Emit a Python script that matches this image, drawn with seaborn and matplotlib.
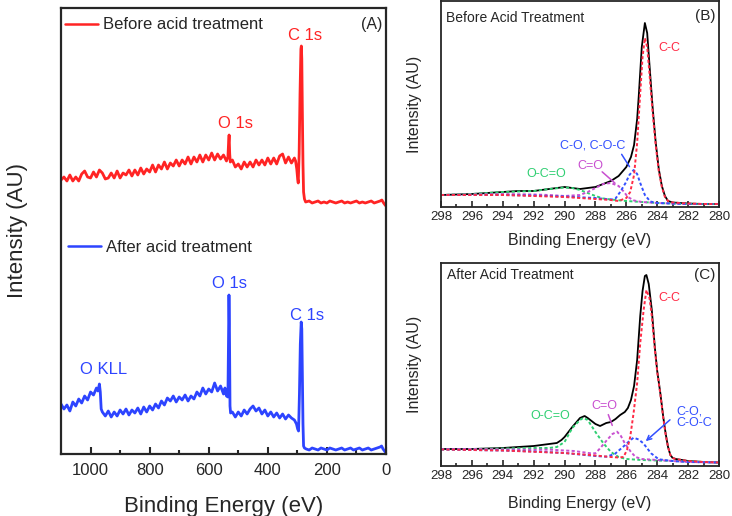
import numpy as np
import pandas as pd
import seaborn as sns
import matplotlib
matplotlib.use("Agg")
import matplotlib.pyplot as plt
from matplotlib.lines import Line2D

sns.set_style("ticks")
plt.rcParams['font.family'] = ['Liberation Sans', 'DejaVu Sans']

# ---------------- Panel A: survey spectra ----------------
survey_before_E = [1100, 1090, 1080, 1070, 1060, 1050, 1040, 1030, 1020, 1010,
                   1000, 990, 980, 970, 960, 950, 940, 930, 920, 910,
                   900, 890, 880, 870, 860, 850, 840, 830, 820, 810,
                   800, 790, 780, 770, 760, 750, 740, 730, 720, 710,
                   700, 690, 680, 670, 660, 650, 640, 630, 620, 610,
                   600, 590, 580, 570, 560, 550, 540, 535, 533, 531, 529, 527,
                   520, 510, 500, 490, 480, 470, 460, 450, 440, 430, 420, 410,
                   400, 390, 380, 370, 360, 350, 340, 330, 320, 310, 306, 302,
                   299, 297, 294, 291, 288, 286.5, 285, 283, 281, 279, 276, 272,
                   260, 250, 240, 230, 220, 210, 200, 190, 180, 170, 160, 150,
                   140, 130, 120, 110, 100, 90, 80, 70, 60, 50, 40, 30, 20, 14,
                   8, 3, 0]
survey_before_I = [274, 277, 273, 279, 273, 277, 273, 280, 283, 277,
                   276, 282, 277, 284, 281, 275, 276, 281, 276, 283,
                   276, 281, 279, 284, 278, 284, 279, 286, 280, 285,
                   282, 289, 282, 289, 285, 292, 285, 291, 288, 294,
                   288, 294, 290, 297, 290, 297, 292, 299, 292, 299,
                   294, 301, 294, 300, 295, 299, 293, 297, 310, 319, 300, 292,
                   294, 287, 290, 285, 292, 287, 292, 287, 294, 289, 294, 289,
                   296, 290, 296, 290, 298, 300, 291, 297, 291, 296, 293, 285,
                   275, 271, 300, 360, 405, 408, 395, 340, 290, 262, 255, 252,
                   253, 251, 252, 253, 251, 252, 251, 253, 252, 251, 252, 253,
                   251, 252, 251, 252, 253, 251, 252, 251, 252, 253, 251, 252, 253, 254,
                   251, 249, 248]

survey_after_E = [1100, 1090, 1080, 1070, 1060, 1050, 1040, 1030, 1020, 1010,
                  1000, 990, 980, 975, 970, 967, 964, 960, 950, 940,
                  930, 920, 910, 900, 890, 880, 870, 860, 850, 840,
                  830, 820, 810, 800, 790, 780, 770, 760, 750, 740,
                  730, 720, 710, 700, 690, 680, 670, 660, 650, 640,
                  630, 620, 610, 600, 590, 580, 570, 560, 550, 545,
                  540, 535, 533, 531.5, 530, 528, 526, 520, 510, 500,
                  490, 480, 470, 460, 450, 440, 430, 420, 410, 400,
                  390, 380, 370, 360, 350, 340, 330, 320, 310, 303,
                  299, 296, 293, 290, 287, 285, 283, 281, 279, 276,
                  270, 260, 250, 240, 230, 220, 210, 200, 190, 180,
                  170, 160, 150, 140, 130, 120, 110, 100, 90, 80,
                  70, 60, 50, 40, 30, 20, 15, 10, 5, 0]
survey_after_I = [50, 45, 49, 43, 52, 48, 55, 51, 58, 54,
                  62, 59, 66, 63, 70, 62, 45, 42, 38, 43,
                  37, 42, 38, 44, 40, 45, 39, 44, 41, 46,
                  40, 47, 42, 48, 44, 50, 46, 53, 49, 56,
                  53, 58, 52, 57, 54, 59, 53, 58, 55, 62,
                  58, 66, 60, 65, 62, 71, 63, 68, 60, 66,
                  58, 57, 120, 159, 130, 48, 41, 42, 37, 42,
                  38, 44, 40, 45, 48, 43, 46, 40, 44, 38,
                  42, 37, 41, 36, 40, 35, 39, 36, 34, 30,
                  25, 23, 60, 110, 132, 125, 80, 30, 8, 6,
                  5, 4, 6, 5, 4, 6, 5, 4, 6, 5,
                  4, 5, 6, 4, 5, 6, 4, 5, 6, 4,
                  5, 6, 4, 5, 6, 7, 8, 5, 3, 1]

# ---------------- Panel B: C1s before acid treatment ----------------
b_env_E = [298, 297, 296, 295, 294, 293, 292, 291, 290.5, 290, 289.5, 289, 288.5,
           288, 287.5, 287, 286.5, 286, 285.7, 285.5, 285.3, 285.2, 285.0, 284.8,
           284.65, 284.5, 284.3, 284.1, 283.9, 283.7, 283.5, 283.3, 283.0, 282,
           281, 280]
b_env_I = [12, 12.5, 13, 14, 15, 16, 16, 18, 19, 20, 19, 18, 19,
           20, 23, 26, 31, 40, 50, 62, 88, 110, 160, 184,
           174, 142, 100, 65, 38, 21, 11, 6, 4.5, 3.5,
           3, 3]
b_cc_E = [298, 294, 290, 288, 287, 286.5, 286, 285.75, 285.5, 285.3, 285.1, 284.95,
          284.8, 284.65, 284.5, 284.3, 284.1, 283.9, 283.7, 283.5, 283.3, 283.0,
          282, 281, 280]
b_cc_I = [12, 12, 10, 8, 7, 6, 9, 15, 32, 64, 114, 150,
          169, 160, 133, 95, 62, 36, 20, 10, 6, 4.5,
          3.5, 3, 3]
b_co_E = [298, 296, 294, 292, 290, 288, 287, 286.7, 286.4, 286.05, 285.8, 285.53,
          285.3, 285.1, 284.8, 284.45, 284, 282, 280]
b_co_I = [12, 12, 12, 11.5, 10.5, 9, 7.5, 8.5, 15, 24, 32, 37,
          33, 24, 12, 5.5, 4, 3, 3]
b_c_o_E = [298, 296, 294, 292, 291, 290, 289, 288.5, 288, 287.5, 287, 286.5,
           286.2, 285.9, 285.5, 285, 284, 282, 280]
b_c_o_I = [12, 12.5, 13, 12.5, 12, 11, 12, 15, 19, 23, 24, 21,
           16, 10, 6.5, 5, 4, 3, 3]
b_occ_E = [298, 296, 294, 292, 291, 290, 289.5, 289, 288.5, 288, 287.5, 287,
           286, 285, 284, 282, 280]
b_occ_I = [12, 13, 15, 16, 18, 19.5, 19, 17, 14, 11, 8.5, 7.5,
           6, 5, 4, 3, 3]

# ---------------- Panel C: C1s after acid treatment ----------------
c_env_E = [298, 296, 294, 293, 292, 291, 290.5, 290.2, 290, 289.5, 289, 288.7,
           288.5, 288, 287.7, 287.3, 287.0, 286.7, 286.4, 286.1, 285.9, 285.7,
           285.5, 285.3, 285.1, 284.95, 284.8, 284.7, 284.55, 284.35, 284.15,
           284.0, 283.8, 283.6, 283.45, 283.3, 283.15, 283.0, 282.8, 282, 281, 280]
c_env_I = [17, 17, 18, 19, 20, 22, 23, 26, 29, 39, 48, 50,
           48, 42, 40, 43, 44, 47, 51, 54, 58, 66,
           80, 106, 150, 175, 190, 191, 182, 156, 118,
           95, 73, 48, 32, 19, 11, 8, 7, 5, 4, 3.5]
c_cc_E = [298, 294, 290, 288, 287, 286.5, 286.18, 285.96, 285.75, 285.53, 285.3,
          285.1, 284.88, 284.7, 284.5, 284.35, 284.15, 284.0, 283.8, 283.6,
          283.45, 283.3, 283.15, 283.0, 282.8, 282, 281, 280]
c_cc_I = [16.5, 15.5, 13, 10.5, 9, 8.5, 9, 16, 29, 53, 83,
          123, 156, 176, 168, 150, 116, 94, 72, 47,
          31, 19, 11, 8, 7, 5, 4, 3.5]
c_co_E = [298, 296, 294, 292, 290, 288, 287.3, 286.75, 286.2, 285.8, 285.53,
          285.2, 284.9, 284.4, 283.9, 283, 282, 280]
c_co_I = [16.5, 16, 15.5, 14.5, 13, 10, 9.3, 12, 19.3, 25, 28.3,
          26.5, 22.7, 12.7, 6.7, 5, 4, 3.5]
c_c_o_E = [298, 296, 294, 292, 290.9, 289.4, 288.3, 288, 287.7, 287.25, 286.9,
           286.6, 286.35, 286.1, 285.7, 285.4, 285, 284, 283, 282, 280]
c_c_o_I = [17, 17, 16.5, 16.3, 16.3, 15, 12.7, 12.7, 17.7, 26, 32,
           34.3, 30, 22.7, 14, 9, 7, 6, 5, 4, 3.5]
c_occ_E = [298, 296, 294, 292, 291, 290.5, 290, 289.5, 289, 288.8, 288.5, 288,
           287.5, 287, 286.5, 286, 285, 283, 280]
c_occ_I = [16.7, 17, 17.5, 18, 18, 19, 24, 38, 46, 48, 46, 34,
           23, 14, 9, 7, 6, 5, 3.5]

# ---------------- colours ----------------
RED = "#ff2424"
BLUE = "#2d44ff"
GREEN = "#2fcf72"
MAGENTA = "#c84fd0"
DBLUE = "#3350ff"
DRED = "#ff2a45"

W, H = 732, 516
fig = plt.figure(figsize=(W / 100, H / 100), dpi=100)


def box(l, t, r, b):
    return [l / W, 1 - b / H, (r - l) / W, (b - t) / H]


# ===== Panel A =====
axA = fig.add_axes(box(61, 8, 386, 454))
dfb = pd.DataFrame({"E": survey_before_E, "I": survey_before_I})
dfa = pd.DataFrame({"E": survey_after_E, "I": survey_after_I})
sns.lineplot(data=dfb, x="E", y="I", ax=axA, color=RED, lw=2.0, legend=False,
             estimator=None, sort=False)
sns.lineplot(data=dfa, x="E", y="I", ax=axA, color=BLUE, lw=2.0, legend=False,
             estimator=None, sort=False)
axA.set_xlim(1100, 0)
axA.set_ylim(0, 446)
axA.set_xticks([1000, 800, 600, 400, 200, 0])
axA.set_xticks([900, 700, 500, 300, 100], minor=True)
axA.set_yticks([])
axA.tick_params(axis="x", which="major", direction="in", length=5, width=1.5,
                labelsize=12, pad=6.5)
axA.tick_params(axis="x", which="minor", direction="in", length=3, width=1.5)
for s in axA.spines.values():
    s.set_linewidth(1.6)
axA.set_xlabel("Binding Energy (eV)", fontsize=16, labelpad=13)
axA.set_ylabel("Intensity (AU)", fontsize=16, labelpad=24)

h1 = Line2D([], [], color=RED, lw=1.8)
h2 = Line2D([], [], color=BLUE, lw=1.8)
legB = axA.legend([h1], ["Before acid treatment"], loc="center left",
                  bbox_to_anchor=(0.012, 0.962), frameon=False, fontsize=12,
                  handlelength=2.0, handletextpad=0.3, borderpad=0, borderaxespad=0)
axA.add_artist(legB)
axA.legend([h2], ["After acid treatment"], loc="center left",
           bbox_to_anchor=(0.021, 0.464), frameon=False, fontsize=12,
           handlelength=2.0, handletextpad=0.3, borderpad=0, borderaxespad=0)

axA.text(274, 418, "C 1s", color=RED, fontsize=12, ha="center", va="center")
axA.text(511, 331, "O 1s", color=RED, fontsize=12, ha="center", va="center")
axA.text(528, 171, "O 1s", color=BLUE, fontsize=12, ha="center", va="center")
axA.text(266, 138, "C 1s", color=BLUE, fontsize=12, ha="center", va="center")
axA.text(955, 84, "O KLL", color=BLUE, fontsize=12, ha="center", va="center")
axA.text(0.988, 0.962, "(A)", transform=axA.transAxes, fontsize=11.5,
         ha="right", va="center")


def hr_panel(ax, env, comps, ytop, xlpad):
    E, I = env
    sns.lineplot(x=E, y=I, ax=ax, color="black", lw=1.3, legend=False,
                 estimator=None, sort=False)
    for (cE, cI, col) in comps:
        sns.lineplot(x=cE, y=cI, ax=ax, color=col, lw=1.4, legend=False,
                     estimator=None, sort=False, dashes=(1.6, 1.2))
    ax.set_xlim(298, 280)
    ax.set_ylim(0, ytop)
    ax.set_xticks(list(range(298, 279, -2)))
    ax.set_xticks(list(range(297, 280, -2)), minor=True)
    ax.set_yticks([])
    ax.tick_params(axis="x", which="major", direction="in", length=4, width=1.2,
                   labelsize=9.5, pad=3)
    ax.tick_params(axis="x", which="minor", direction="in", length=2.5, width=1.2)
    for s in ax.spines.values():
        s.set_linewidth(1.3)
    ax.set_xlabel("Binding Energy (eV)", fontsize=11.5, labelpad=xlpad)
    ax.set_ylabel("Intensity (AU)", fontsize=11.5, labelpad=14)


# ===== Panel B =====
axB = fig.add_axes(box(441, 1, 719, 207))
hr_panel(axB, (b_env_E, b_env_I),
         [(b_occ_E, b_occ_I, GREEN), (b_c_o_E, b_c_o_I, MAGENTA),
          (b_co_E, b_co_I, DBLUE), (b_cc_E, b_cc_I, DRED)], 206, 7)
axB.text(0.018, 0.917, "Before Acid Treatment", transform=axB.transAxes,
         fontsize=10, ha="left", va="center")
axB.text(0.986, 0.927, "(B)", transform=axB.transAxes, fontsize=11,
         ha="right", va="center")
axB.text(283.9, 159, "C-C", color=DRED, fontsize=9, ha="left", va="center")
axB.text(288.18, 61, "C-O, C-O-C", color=DBLUE, fontsize=9, ha="center", va="center")
axB.text(288.34, 41, "C=O", color=MAGENTA, fontsize=9, ha="center", va="center")
axB.text(291.19, 33, "O-C=O", color=GREEN, fontsize=9, ha="center", va="center")
axB.annotate("", xy=(285.7, 38), xytext=(286.4, 55),
             arrowprops=dict(arrowstyle="-", color=DBLUE, lw=1.1))
axB.annotate("", xy=(286.6, 22), xytext=(287.7, 37),
             arrowprops=dict(arrowstyle="-", color=MAGENTA, lw=1.1))

# ===== Panel C =====
axC = fig.add_axes(box(441, 263, 719, 466))
hr_panel(axC, (c_env_E, c_env_I),
         [(c_occ_E, c_occ_I, GREEN), (c_c_o_E, c_c_o_I, MAGENTA),
          (c_co_E, c_co_I, DBLUE), (c_cc_E, c_cc_I, DRED)], 203, 10)
axC.text(0.0216, 0.941, "After Acid Treatment", transform=axC.transAxes,
         fontsize=10, ha="left", va="center")
axC.text(0.986, 0.941, "(C)", transform=axC.transAxes, fontsize=11,
         ha="right", va="center")
axC.text(283.93, 168, "C-C", color=DRED, fontsize=9, ha="left", va="center")
axC.text(290.9, 50, "O-C=O", color=GREEN, fontsize=9, ha="center", va="center")
axC.text(287.43, 60, "C=O", color=MAGENTA, fontsize=9, ha="center", va="center")
axC.text(282.76, 54, "C-O,", color=DBLUE, fontsize=9, ha="left", va="center")
axC.text(282.76, 43, "C-O-C", color=DBLUE, fontsize=9, ha="left", va="center")
axC.annotate("", xy=(286.85, 38), xytext=(287.23, 54),
             arrowprops=dict(arrowstyle="-", color=MAGENTA, lw=1.1))
axC.annotate("", xy=(284.88, 23), xytext=(283.04, 48),
             arrowprops=dict(arrowstyle="->", color=DBLUE, lw=1.1,
                             mutation_scale=8))

fig.savefig("out.png", dpi=100)
